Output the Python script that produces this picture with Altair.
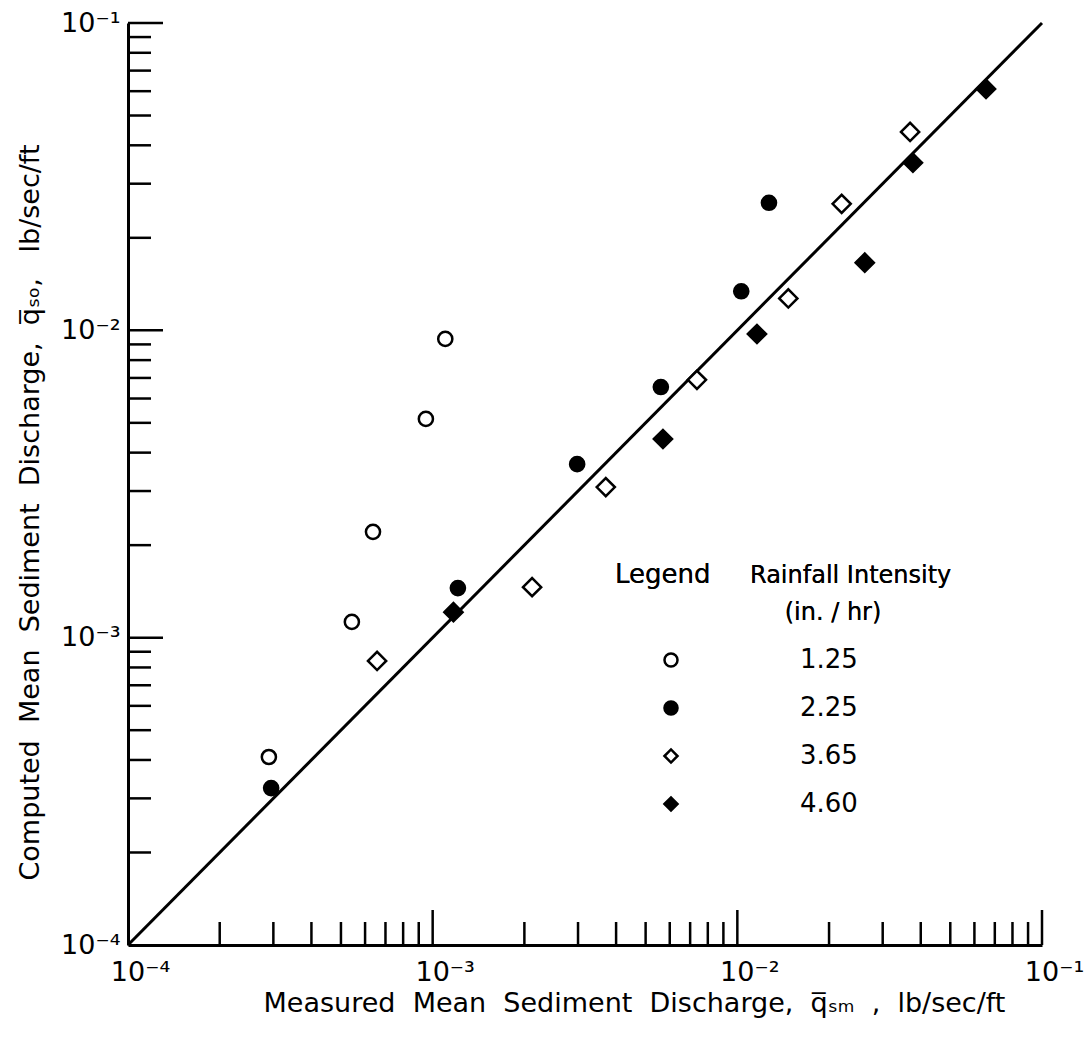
import altair as alt
import pandas as pd

# ---- data ----
categories = ["1.25", "2.25", "3.65", "4.60"]

x_125 = [2.90e-4, 5.43e-4, 6.37e-4, 9.50e-4, 1.10e-3]
y_125 = [4.09e-4, 1.125e-3, 2.21e-3, 5.15e-3, 9.38e-3]

x_225 = [2.95e-4, 1.21e-3, 2.98e-3, 5.61e-3, 1.03e-2, 1.27e-2]
y_225 = [3.24e-4, 1.45e-3, 3.67e-3, 6.54e-3, 1.34e-2, 2.60e-2]

x_365 = [6.57e-4, 2.12e-3, 3.70e-3, 7.37e-3, 1.47e-2, 2.20e-2, 3.69e-2]
y_365 = [8.40e-4, 1.46e-3, 3.09e-3, 6.90e-3, 1.27e-2, 2.58e-2, 4.42e-2]

x_460 = [1.17e-3, 5.70e-3, 1.16e-2, 2.62e-2, 3.77e-2, 6.55e-2]
y_460 = [1.21e-3, 4.43e-3, 9.73e-3, 1.66e-2, 3.51e-2, 6.10e-2]

line_vals = [1e-4, 1e-1]
major_ticks = [1e-4, 1e-3, 1e-2, 1e-1]
minor_mult = [2, 3, 4, 5, 6, 7, 8, 9]
decades = [1e-4, 1e-3, 1e-2]

FONT = "DejaVu Sans"
W, H = 914, 922
NB = "\u00a0"

rows = []
for cat, xs, ys in [("1.25", x_125, y_125), ("2.25", x_225, y_225),
                    ("3.65", x_365, y_365), ("4.60", x_460, y_460)]:
    for a, b in zip(xs, ys):
        rows.append({"x": a, "y": b, "cat": cat})
pts = pd.DataFrame(rows)

line_df = pd.DataFrame({"x": line_vals, "y": line_vals})
major_df = pd.DataFrame({"v": major_ticks[1:]})
minor_df = pd.DataFrame({"v": [m * d for d in decades for m in minor_mult]})

xscale = alt.Scale(type="log", domain=[1e-4, 1e-1], nice=False)
yscale = alt.Scale(type="log", domain=[1e-4, 1e-1], nice=False)

lab_expr = ("'10' + (datum.value < 0.0005 ? '⁻⁴' : datum.value < 0.005 ? '⁻³' : "
            "datum.value < 0.05 ? '⁻²' : '⁻¹')")

x_title = (f"Measured{NB} Mean{NB} Sediment{NB} Discharge,{NB} q̅ₛₘ{NB} ,{NB} lb/sec/ft")
y_title = (f"Computed{NB} Mean{NB} Sediment{NB} Discharge,{NB} q̅ₛₒ,{NB}{NB} lb/sec/ft")

x_axis = alt.Axis(values=major_ticks, labelExpr=lab_expr, ticks=False, grid=False,
                  domainColor="black", domainWidth=3, labelFontSize=27, labelFont=FONT,
                  labelColor="black", labelAlign="center", labelOffset=12, labelPadding=14,
                  labelFlush=False, labelOverlap=False,
                  title=x_title,
                  titleFont=FONT, titleFontSize=27, titleFontWeight="normal",
                  titleColor="black", titleX=506, titleY=66, titleAlign="center",
                  titleBaseline="alphabetic", titleAnchor="start")
y_axis = alt.Axis(values=major_ticks, labelExpr=lab_expr, ticks=False, grid=False,
                  domainColor="black", domainWidth=3, labelFontSize=27, labelFont=FONT,
                  labelColor="black", labelPadding=8, labelOffset=0,
                  labelFlush=False, labelOverlap=False,
                  title=y_title,
                  titleFont=FONT, titleFontSize=27, titleFontWeight="normal",
                  titleColor="black", titleX=-98, titleY=489, titleAngle=-90,
                  titleAlign="center", titleBaseline="middle", titleAnchor="start")

base_line = alt.Chart(line_df).mark_line(color="black", strokeWidth=3).encode(
    x=alt.X("x:Q", scale=xscale, axis=x_axis),
    y=alt.Y("y:Q", scale=yscale, axis=y_axis),
)

xmaj = alt.Chart(major_df).mark_rule(color="black", strokeWidth=2.5).encode(
    x=alt.X("v:Q", scale=xscale), y=alt.value(H), y2=alt.value(H - 35))
xmin = alt.Chart(minor_df).mark_rule(color="black", strokeWidth=2.5).encode(
    x=alt.X("v:Q", scale=xscale), y=alt.value(H), y2=alt.value(H - 23))
ymaj = alt.Chart(major_df).mark_rule(color="black", strokeWidth=2.5).encode(
    y=alt.Y("v:Q", scale=yscale), x=alt.value(0), x2=alt.value(35))
ymin = alt.Chart(minor_df).mark_rule(color="black", strokeWidth=2.5).encode(
    y=alt.Y("v:Q", scale=yscale), x=alt.value(0), x2=alt.value(23))

legend = alt.Legend(title=None, orient="none", legendX=530, legendY=624,
                    labelFont=FONT, labelFontSize=26, labelColor="black",
                    labelOffset=116, rowPadding=22, symbolStrokeColor="black",
                    symbolStrokeWidth=2.5, symbolSize=170)

shape_enc = alt.Shape("cat:N", scale=alt.Scale(domain=categories,
                      range=["circle", "circle", "diamond", "diamond"]), legend=legend)
fill_enc = alt.Fill("cat:N", scale=alt.Scale(domain=categories,
                    range=["white", "black", "white", "black"]), legend=legend)
stroke_enc = alt.Stroke("cat:N", scale=alt.Scale(domain=categories,
                        range=["black", "black", "black", "black"]), legend=legend)

point_layers = []
for cats_sel, sz in [(["1.25", "2.25"], 200), (["3.65", "4.60"], 330)]:
    point_layers.append(
        alt.Chart(pts).transform_filter(
            alt.FieldOneOfPredicate(field="cat", oneOf=cats_sel)
        ).mark_point(filled=False, strokeWidth=2.5, opacity=1, size=sz).encode(
            x=alt.X("x:Q", scale=xscale),
            y=alt.Y("y:Q", scale=yscale),
            shape=shape_enc, fill=fill_enc, stroke=stroke_enc,
        )
    )

hdr = [
    ("Legend", 487, 560, "left", 26),
    ("Rainfall Intensity", 622, 560, "left", 24),
    ("(in. / hr)", 705, 597, "center", 24),
]
hdr_layers = [
    alt.Chart(line_df).mark_text(text=t, font=FONT, fontSize=fs, color="black",
                                 align=al, baseline="alphabetic").encode(
        x=alt.value(xx), y=alt.value(yy))
    for t, xx, yy, al, fs in hdr
]

chart = alt.layer(base_line, xmaj, xmin, ymaj, ymin, *point_layers, *hdr_layers).properties(
    width=W, height=H,
    autosize=alt.AutoSizeParams(type="none"),
    padding={"left": 128, "top": 23, "right": 50, "bottom": 95},
    background="white",
).configure_view(stroke=None)

chart.save("out.html", embed_options={"renderer": "svg", "actions": False})
